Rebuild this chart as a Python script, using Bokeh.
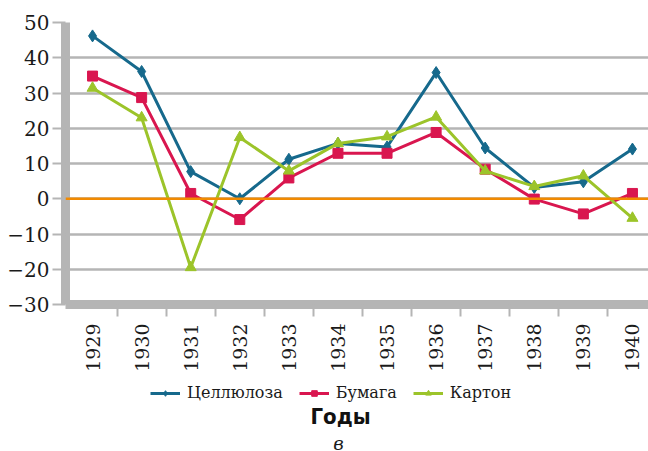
import math
from bokeh.plotting import figure
from bokeh.layouts import column
from bokeh.models import Range1d, FixedTicker, Legend, LegendItem, Label, Span
from bokeh.embed import file_html
from bokeh.resources import INLINE

years = ["1929", "1930", "1931", "1932", "1933", "1934", "1935", "1936", "1937", "1938", "1939", "1940"]
cellulose = [46.2, 36.1, 7.7, 0.0, 11.2, 15.7, 14.7, 35.8, 14.4, 3.2, 4.8, 14.1]
paper = [34.8, 28.7, 1.5, -5.9, 5.9, 12.9, 12.9, 18.8, 8.4, -0.1, -4.3, 1.5]
carton = [31.4, 23.0, -19.5, 17.4, 7.9, 15.7, 17.6, 23.2, 7.9, 3.5, 6.5, -5.5]
y_ticks = [-30, -20, -10, 0, 10, 20, 30, 40, 50]
series_names = ["Целлюлоза", "Бумага", "Картон"]

BLUE = "#16698c"
RED = "#d9164f"
GREEN = "#9cc42a"
GRAY = "#b5b5b5"
ORANGE = "#f28a00"

idx = list(range(len(years)))
XR = (-0.551, 11.327)

p = figure(frame_width=583, frame_height=282, output_backend="svg", toolbar_location=None,
           x_range=Range1d(*XR), y_range=Range1d(-30, 50),
           min_border_left=65, min_border_right=0, min_border_top=22, min_border_bottom=72)
p.outline_line_color = None
p.background_fill_color = "white"
p.border_fill_color = "white"

# grid
p.xgrid.visible = False
p.ygrid.ticker = FixedTicker(ticks=y_ticks)
p.ygrid.grid_line_color = GRAY
p.ygrid.grid_line_width = 2.5

zero = Span(location=0, dimension="width", line_color=ORANGE, line_width=2.5)
p.add_layout(zero)

styles = [
    (cellulose, BLUE, "diamond", 12),
    (paper, RED, "square", 10),
    (carton, GREEN, "triangle", 11),
]
for vals, col, mk, sz in styles:
    p.line(idx, vals, line_color=col, line_width=3)
    p.scatter(idx, vals, marker=mk, size=sz, fill_color=col, line_color=col)

# y axis (wall): tick marks drawn as minor ticks so labels sit close to the wall
ya = p.yaxis[0]
ya.ticker = FixedTicker(ticks=y_ticks, minor_ticks=y_ticks)
ya.major_label_overrides = {t: (str(t).replace("-", "\u2212")) for t in y_ticks}
ya.axis_line_color = GRAY
ya.axis_line_width = 9
ya.major_tick_line_color = None
ya.major_tick_in = 0
ya.major_tick_out = 0
ya.minor_tick_line_color = GRAY
ya.minor_tick_line_width = 2
ya.minor_tick_in = 0
ya.minor_tick_out = 13
ya.major_label_standoff = 3
ya.major_label_text_font = "DejaVu Serif"
ya.major_label_text_font_size = "20px"
ya.major_label_text_color = "#1a1a1a"

# x axis (floor)
xa = p.xaxis[0]
xa.ticker = FixedTicker(ticks=idx, minor_ticks=[i + 0.5 for i in idx[:-1]])
xa.major_label_overrides = {i: y for i, y in zip(idx, years)}
xa.major_label_orientation = math.pi / 2
xa.axis_line_color = GRAY
xa.axis_line_width = 9
xa.major_tick_line_color = None
xa.major_tick_in = 0
xa.major_tick_out = 0
xa.minor_tick_line_color = GRAY
xa.minor_tick_line_width = 2
xa.minor_tick_in = 0
xa.minor_tick_out = 12
xa.major_label_standoff = 7
xa.major_label_text_font = "DejaVu Serif"
xa.major_label_text_font_size = "19px"
xa.major_label_text_color = "#1a1a1a"

# legend + captions strip (same x scale as the chart)
q = figure(frame_width=583, frame_height=75, output_backend="svg", toolbar_location=None,
           x_range=Range1d(*XR), y_range=Range1d(0, 1),
           min_border_left=65, min_border_right=0, min_border_top=0, min_border_bottom=0,
           x_axis_type=None, y_axis_type=None)
q.outline_line_color = None
q.grid.visible = False
items = []
for name, (vals, col, mk, sz) in zip(series_names, styles):
    rl = q.line(idx, vals, line_color=col, line_width=3, visible=False)
    rm = q.scatter(idx, vals, marker=mk, size=7, fill_color=col, line_color=col, visible=False)
    items.append(LegendItem(label=name, renderers=[rl, rm]))

legend = Legend(items=items, orientation="horizontal", location=(85, 49))
legend.border_line_color = None
legend.background_fill_alpha = 0
legend.inactive_fill_alpha = 0
legend.glyph_width = 30
legend.glyph_height = 14
legend.label_text_font = "DejaVu Serif"
legend.label_text_font_size = "16px"
legend.label_text_color = "#1a1a1a"
legend.label_standoff = 7
legend.spacing = 16
legend.padding = 2
legend.margin = 0
q.add_layout(legend, "center")

axis_title = Label(text="Годы", x=275, y=35, x_units="screen", y_units="screen",
                   text_align="center", text_baseline="alphabetic",
                   text_font="Liberation Sans Narrow, DejaVu Sans Condensed, Roboto Condensed, Noto Sans",
                   text_font_style="bold", text_font_size="22px", text_color="#111111")
q.add_layout(axis_title)
panel_letter = Label(text="в", x=273, y=8, x_units="screen", y_units="screen",
                     text_align="center", text_baseline="alphabetic",
                     text_font="DejaVu Serif", text_font_style="italic",
                     text_font_size="18px", text_color="#1a1a1a")
q.add_layout(panel_letter)

layout = column(p, q, spacing=0)
open("out.html", "w").write(file_html(layout, INLINE))
